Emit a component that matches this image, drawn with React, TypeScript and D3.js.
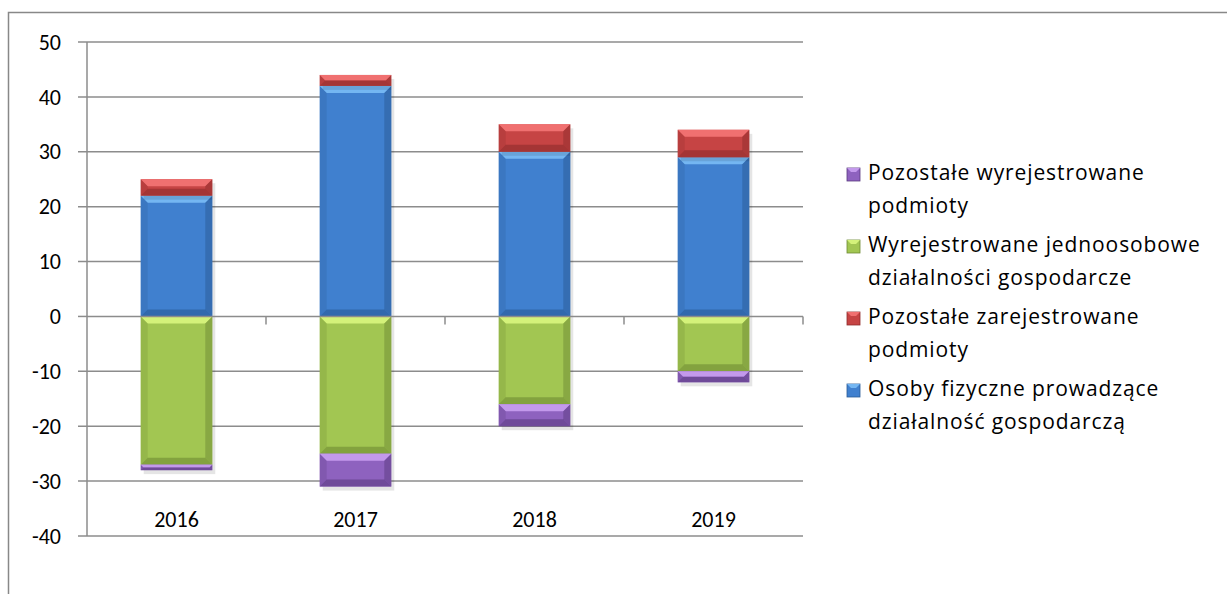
import * as d3 from 'd3';
import React from 'react';

const years = ['2016', '2017', '2018', '2019'];
// values per series, one per year
const osobyFizyczne = [22, 42, 30, 29];
const pozostaleZarej = [3, 2, 5, 5];
const wyrejJednoos = [-27, -25, -16, -10];
const pozostaleWyrej = [-1, -6, -4, -2];
const yTicks = [50, 40, 30, 20, 10, 0, -10, -20, -30, -40];

type Series = {
  key: string;
  lines: string[];
  values: number[];
  base: string;
  light: string;
  dark: string;
};

const series: Series[] = [
  { key: 'blue', lines: ['Osoby fizyczne prowadzące', 'działalność gospodarczą'], values: osobyFizyczne, base: '#4080cf', light: '#74b6f2', dark: '#2a5a96' },
  { key: 'red', lines: ['Pozostałe zarejestrowane', 'podmioty'], values: pozostaleZarej, base: '#c64444', light: '#f07070', dark: '#8e2c2c' },
  { key: 'green', lines: ['Wyrejestrowane jednoosobowe', 'działalności gospodarcze'], values: wyrejJednoos, base: '#a2c652', light: '#d4f27a', dark: '#6e8a34' },
  { key: 'purple', lines: ['Pozostałe wyrejestrowane', 'podmioty'], values: pozostaleWyrej, base: '#8e62bf', light: '#c399ec', dark: '#5a3a80' },
];

const W = 1227;
const H = 594;
const plot = { left: 87, right: 803, top: 42, bottom: 536 };
const font = 'Carlito, Calibri, Lato, sans-serif';
const legendFont = '"Open Sans", Lato, sans-serif';

const x = d3.scaleBand<string>().domain(years).range([plot.left, plot.right]).paddingInner(0.6).paddingOuter(0.3);
const xOuter = d3.scaleBand<string>().domain(years).range([plot.left, plot.right]);
const y = d3.scaleLinear().domain([-40, 50]).range([plot.bottom, plot.top]);

function Bevel({ x0, y0, w, h, s }: { x0: number; y0: number; w: number; h: number; s: Series }) {
  const b = Math.min(7, h / 2, w / 2);
  const x1 = x0 + w;
  const y1 = y0 + h;
  return (
    <g>
      <rect x={x0 + 3} y={y0 + 4} width={w} height={h} fill="#000" opacity={0.1} />
      <rect x={x0} y={y0} width={w} height={h} fill={s.base} />
      <polygon points={`${x0},${y0} ${x1},${y0} ${x1 - b},${y0 + b} ${x0 + b},${y0 + b}`} fill={s.light} />
      <polygon points={`${x0},${y1} ${x1},${y1} ${x1 - b},${y1 - b} ${x0 + b},${y1 - b}`} fill={s.dark} opacity={0.6} />
      <polygon points={`${x0},${y0} ${x0 + b},${y0 + b} ${x0 + b},${y1 - b} ${x0},${y1}`} fill={s.dark} opacity={0.25} />
      <polygon points={`${x1},${y0} ${x1 - b},${y0 + b} ${x1 - b},${y1 - b} ${x1},${y1}`} fill={s.dark} opacity={0.5} />
    </g>
  );
}

export default function App() {
  const bars: React.ReactNode[] = [];
  years.forEach((yr, i) => {
    let pos = 0;
    let neg = 0;
    series.forEach((s) => {
      const v = s.values[i];
      let a: number, b: number;
      if (v >= 0) { a = pos; b = pos + v; pos = b; } else { a = neg; b = neg + v; neg = b; }
      const top = y(Math.max(a, b));
      const h = Math.abs(y(a) - y(b));
      bars.push(<Bevel key={s.key + yr} x0={x(yr)!} y0={top} w={x.bandwidth()} h={h} s={s} />);
    });
  });

  const legendItems = [...series].reverse();

  return (
    <svg width={W} height={H} style={{ position: 'absolute', left: 0, top: 0, background: '#fff' }} fontFamily={font}>
      <rect x={8.5} y={12.5} width={W} height={H} fill="#fff" stroke="#888" strokeWidth={1.5} />
      {yTicks.filter((t) => t !== 0).map((t) => (
        <line key={t} x1={plot.left - 9} x2={plot.right} y1={y(t)} y2={y(t)} stroke="#8c8c8c" strokeWidth={1.5} />
      ))}
      <line x1={plot.left - 9} x2={plot.left} y1={y(0)} y2={y(0)} stroke="#8c8c8c" strokeWidth={1.5} />
      <line x1={plot.left} x2={plot.left} y1={plot.top} y2={plot.bottom} stroke="#8c8c8c" strokeWidth={1.5} />
      {yTicks.map((t) => (
        <text key={t} x={61} y={y(t)} dy="0.35em" textAnchor="end" fontSize={22} fill="#000">{t}</text>
      ))}
      {bars}
      <line x1={plot.left} x2={plot.right} y1={y(0)} y2={y(0)} stroke="#8c8c8c" strokeWidth={1.5} />
      {years.map((yr) => (
        <line key={yr} x1={xOuter(yr)! + xOuter.bandwidth()} x2={xOuter(yr)! + xOuter.bandwidth()} y1={y(0)} y2={y(0) + 8} stroke="#8c8c8c" strokeWidth={1.5} />
      ))}
      {years.map((yr) => (
        <text key={yr} x={x(yr)! + x.bandwidth() / 2} y={519} dy="0.35em" textAnchor="middle" fontSize={22} fill="#000">{yr}</text>
      ))}
      {legendItems.map((s, i) => {
        const cy = 173 + i * 72;
        return (
          <g key={s.key}>
            <rect x={847} y={cy - 5} width={13} height={13} fill={s.base} stroke={s.dark} strokeWidth={0.8} />
            <polygon points={`${847},${cy - 5} ${860},${cy - 5} ${856},${cy - 1} ${851},${cy - 1}`} fill={s.light} />
            {s.lines.map((ln, j) => (
              <text key={j} x={868} y={cy + j * 33} dy="0.35em" fontSize={21} letterSpacing={0.9} fontFamily={legendFont} fill="#000">{ln}</text>
            ))}
          </g>
        );
      })}
    </svg>
  );
}
